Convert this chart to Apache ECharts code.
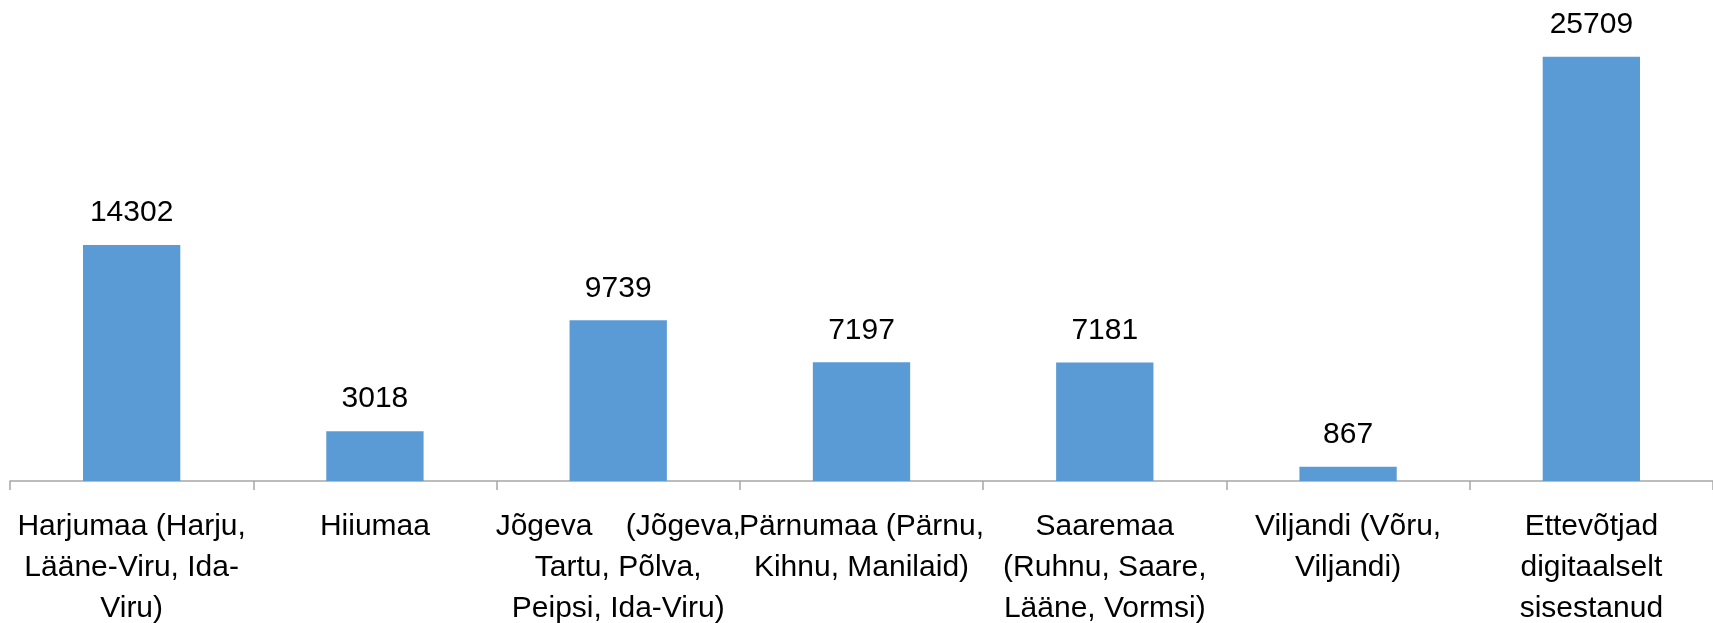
<!DOCTYPE html>
<html>
<head>
<meta charset="utf-8">
<script src="https://cdn.jsdelivr.net/npm/echarts@6/dist/echarts.min.js"></script>
<style>
    html, body { margin: 0; padding: 0; background: #fff; }
    #chart { width: 1713px; height: 623px; }
</style>
</head>
<body>
<div id="chart"></div>
<script>
// maakonnad / kategooriad (ridade vahetus nagu originaalis)
var categories = [
    'Harjumaa (Harju,\nLääne-Viru, Ida-\nViru)',
    'Hiiumaa',
    'Jõgeva    (Jõgeva,\nTartu, Põlva,\nPeipsi, Ida-Viru)',
    'Pärnumaa (Pärnu,\nKihnu, Manilaid)',
    'Saaremaa\n(Ruhnu, Saare,\nLääne, Vormsi)',
    'Viljandi (Võru,\nViljandi)',
    'Ettevõtjad\ndigitaalselt\nsisestanud'
];
var values = [14302, 3018, 9739, 7197, 7181, 867, 25709];

var yMax = 29150;

function draw_bar_chart() {
    var chart = echarts.init(document.getElementById('chart'));
    var font = "'Liberation Sans', Arial, sans-serif";
    var option = {
        animation: false,
        grid: {
            left: 10, right: 0, top: 0, bottom: 142,
            containLabel: false,
            outerBoundsMode: 'none'
        },
        xAxis: {
            type: 'category',
            data: categories,
            axisLine: { lineStyle: { color: '#a6a6a6', width: 1.5 } },
            axisTick: { show: true, length: 9, lineStyle: { color: '#a6a6a6', width: 1.5 } },
            axisLabel: {
                interval: 0,
                margin: 25,
                color: '#000',
                fontFamily: font,
                fontSize: 30,
                lineHeight: 41,
                align: 'center'
            }
        },
        yAxis: {
            type: 'value',
            min: 0,
            max: yMax,
            show: false,
            splitLine: { show: false }
        },
        series: [{
            type: 'bar',
            data: values,
            barWidth: '40%',
            itemStyle: { color: '#5b9bd5' },
            label: {
                show: true,
                position: 'top',
                distance: 17,
                color: '#000',
                fontFamily: font,
                fontSize: 30
            }
        }]
    };
    chart.setOption(option);
    window.onresize = chart.resize;
}

draw_bar_chart();
</script>
</body>
</html>
